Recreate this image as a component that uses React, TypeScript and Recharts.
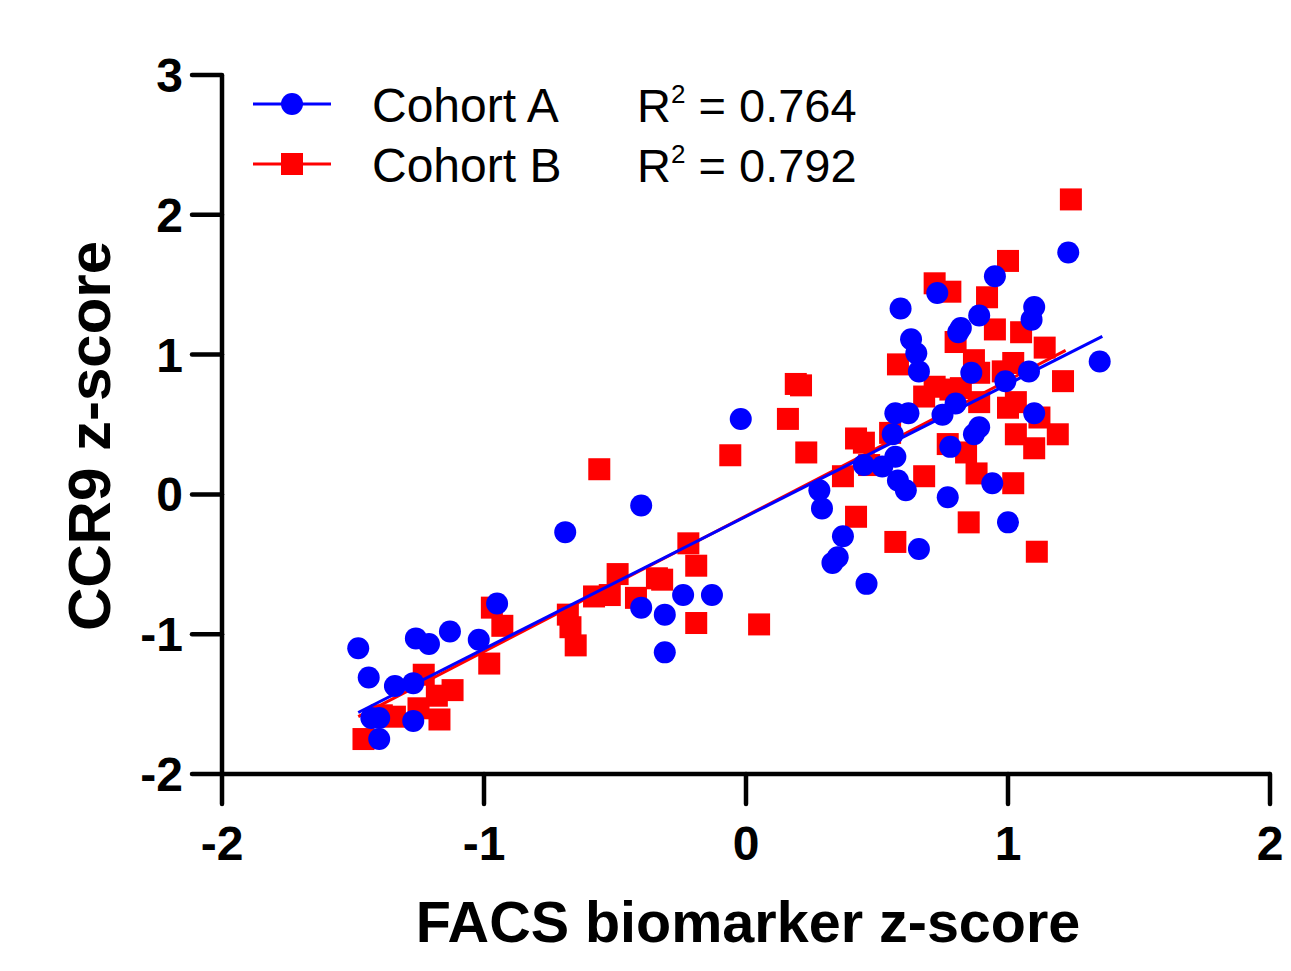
import { ScatterChart, Scatter, XAxis, YAxis } from "recharts";

const BLUE = "#0000ff";
const RED = "#ff0000";
const FONT = "'Liberation Sans', Arial, sans-serif";

const X_TICKS = [-2, -1, 0, 1, 2];
const Y_TICKS = [-2, -1, 0, 1, 2, 3];

// Cohort A (blue circles)
const cohortAX = [
  -1.48, -1.44, -1.34, -1.27, -1.26, -1.21, -1.13, -1.02, -0.95, -1.43, -1.40, -1.27, -1.40,
  -0.69, -0.40, -0.40, -0.31, -0.31, -0.24, -0.13, -0.02,
  0.28, 0.29, 0.37, 0.35, 0.33, 0.46, 0.45, 0.52, 0.56, 0.57, 0.62, 0.57, 0.58, 0.61,
  0.59, 0.63, 0.65, 0.66, 0.66, 0.73, 0.75, 0.78, 0.77, 0.80, 0.82, 0.81, 0.89, 0.95,
  0.86, 0.89, 0.87, 0.99, 0.94, 1.00, 1.08, 1.09, 1.10, 1.10, 1.23, 1.35,
];
const cohortAY = [
  -1.10, -1.31, -1.37, -1.35, -1.03, -1.07, -0.98, -1.04, -0.78, -1.60, -1.60, -1.62, -1.75,
  -0.27, -0.08, -0.81, -0.86, -1.13, -0.72, -0.72, 0.54,
  0.03, -0.10, -0.30, -0.45, -0.49, -0.64, 0.21, 0.20, 0.43, 0.58, 0.58, 0.27, 0.10, 0.03,
  1.33, 1.11, 1.01, 0.88, -0.39, 1.44, 0.57, 0.34, -0.02, 0.65, 1.19, 1.16, 1.28, 1.56,
  0.87, 0.48, 0.43, 0.81, 0.08, -0.20, 0.88, 1.25, 1.34, 0.58, 1.73, 0.95,
];

// Cohort B (red squares)
const cohortBX = [
  -1.46, -1.39, -1.34, -1.25, -1.23, -1.18, -1.17, -1.12, -0.98, -0.97, -0.93,
  -0.68, -0.67, -0.65, -0.56, -0.58, -0.52, -0.49, -0.42, -0.34, -0.32, -0.22, -0.19, -0.19,
  -0.06, 0.05,
  0.16, 0.19, 0.21, 0.23, 0.37, 0.42, 0.45, 0.42, 0.47, 0.55, 0.57, 0.58, 0.68, 0.68,
  0.72, 0.72, 0.78, 0.78, 0.82, 0.77, 0.80, 0.84, 0.85, 0.87, 0.89, 0.89, 0.88, 0.92,
  0.95, 0.98, 1.00, 1.00, 1.02, 1.03, 1.03, 1.02, 1.05, 1.10, 1.11, 1.12, 1.14, 1.19,
  1.21, 1.24,
];
const cohortBY = [
  -1.75, -1.58, -1.59, -1.53, -1.29, -1.44, -1.61, -1.40, -1.21, -0.81, -0.94,
  -0.86, -0.95, -1.08, 0.18, -0.73, -0.72, -0.57, -0.74, -0.60, -0.61, -0.35, -0.51, -0.92,
  0.28, -0.93,
  0.54, 0.79, 0.78, 0.30, 0.13, 0.40, 0.37, -0.16, 0.21, 0.44, -0.34, 0.93, 0.13, 0.70,
  1.51, 0.77, 1.45, 0.75, 0.76, 0.36, 1.09, 0.30, -0.20, 0.96, 0.87, 0.66, 0.15, 1.41,
  1.18, 0.88, 1.67, 0.62, 0.94, 0.66, 0.43, 0.08, 1.16, 0.33, -0.41, 0.55, 1.05, 0.43,
  0.81, 2.11,
];

// linear fits
const fitAX = [-1.48, 1.36];
const fitAY = [-1.56, 1.13];
const fitBX = [-1.48, 1.22];
const fitBY = [-1.59, 1.03];

const toPoints = (xs: number[], ys: number[]) => xs.map((x, i) => ({ x, y: ys[i] }));

const pointsA = toPoints(cohortAX, cohortAY);
const pointsB = toPoints(cohortBX, cohortBY);
const lineA = toPoints(fitAX, fitAY);
const lineB = toPoints(fitBX, fitBY);

// eslint-disable-next-line @typescript-eslint/no-explicit-any
const Circle = (p: any) => <circle cx={p.cx} cy={p.cy} r={11} fill={BLUE} />;
// eslint-disable-next-line @typescript-eslint/no-explicit-any
const Square = (p: any) => <rect x={p.cx - 11} y={p.cy - 11} width={22} height={22} fill={RED} />;
const NoShape = () => <g />;

const tickStyle = { fill: "#000", fontSize: 48, fontWeight: "bold", fontFamily: FONT };

function LegendRow({ top, color, square, name, r2 }: {
  top: number; color: string; square?: boolean; name: string; r2: string;
}) {
  return (
    <>
      <svg style={{ position: "absolute", left: 250, top: top - 15, overflow: "visible" }} width={84} height={30}>
        <line x1={3} y1={15} x2={81} y2={15} stroke={color} strokeWidth={3} />
        {square
          ? <rect x={31} y={4} width={22} height={22} fill={color} />
          : <circle cx={42} cy={15} r={11} fill={color} />}
      </svg>
      <div style={{ position: "absolute", left: 372, top: top - 22, fontSize: 48, lineHeight: 1 }}>{name}</div>
      <div style={{ position: "absolute", left: 637, top: top - 22, fontSize: 47, lineHeight: 1, whiteSpace: "nowrap" }}>
        R<span style={{ fontSize: 26, position: "relative", top: -19 }}>2</span> = {r2}
      </div>
    </>
  );
}

export default function App() {
  return (
    <div style={{ position: "absolute", left: 0, top: 0, width: 1291, height: 971, background: "#fff", fontFamily: FONT }}>
      <ScatterChart width={1291} height={971} margin={{ top: 75, right: 21, bottom: 77, left: 102 }}>
        <XAxis
          type="number"
          dataKey="x"
          domain={[-2, 2]}
          ticks={X_TICKS}
          height={120}
          axisLine={{ stroke: "#000", strokeWidth: 4.5 }}
          tickLine={{ stroke: "#000", strokeWidth: 4.5, strokeLinecap: "round" }}
          tickSize={30}
          tickMargin={22}
          tick={tickStyle}
        />
        <YAxis
          type="number"
          dataKey="y"
          domain={[-2, 3]}
          ticks={Y_TICKS}
          width={120}
          axisLine={{ stroke: "#000", strokeWidth: 4.5 }}
          tickLine={{ stroke: "#000", strokeWidth: 4.5, strokeLinecap: "round" }}
          tickSize={30}
          tickMargin={9}
          tick={tickStyle}
        />
        <Scatter data={pointsB} shape={Square} isAnimationActive={false} />
        <Scatter data={lineB} line={{ stroke: RED, strokeWidth: 3 }} shape={NoShape} isAnimationActive={false} />
        <Scatter data={lineA} line={{ stroke: BLUE, strokeWidth: 3 }} shape={NoShape} isAnimationActive={false} />
        <Scatter data={pointsA} shape={Circle} isAnimationActive={false} />
      </ScatterChart>

      <LegendRow top={104} color={BLUE} name="Cohort A" r2="0.764" />
      <LegendRow top={164} color={RED} square name="Cohort B" r2="0.792" />

      <div style={{ position: "absolute", left: 248, width: 1000, top: 894, textAlign: "center", fontSize: 57.5, fontWeight: "bold", lineHeight: 1 }}>
        FACS biomarker z-score
      </div>
      <div style={{
        position: "absolute", left: 90 - 300, top: 436 - 30, width: 600, height: 60, textAlign: "center",
        fontSize: 60, fontWeight: "bold", lineHeight: 1, transform: "rotate(-90deg)", transformOrigin: "50% 50%",
      }}>
        CCR9 z-score
      </div>
    </div>
  );
}
